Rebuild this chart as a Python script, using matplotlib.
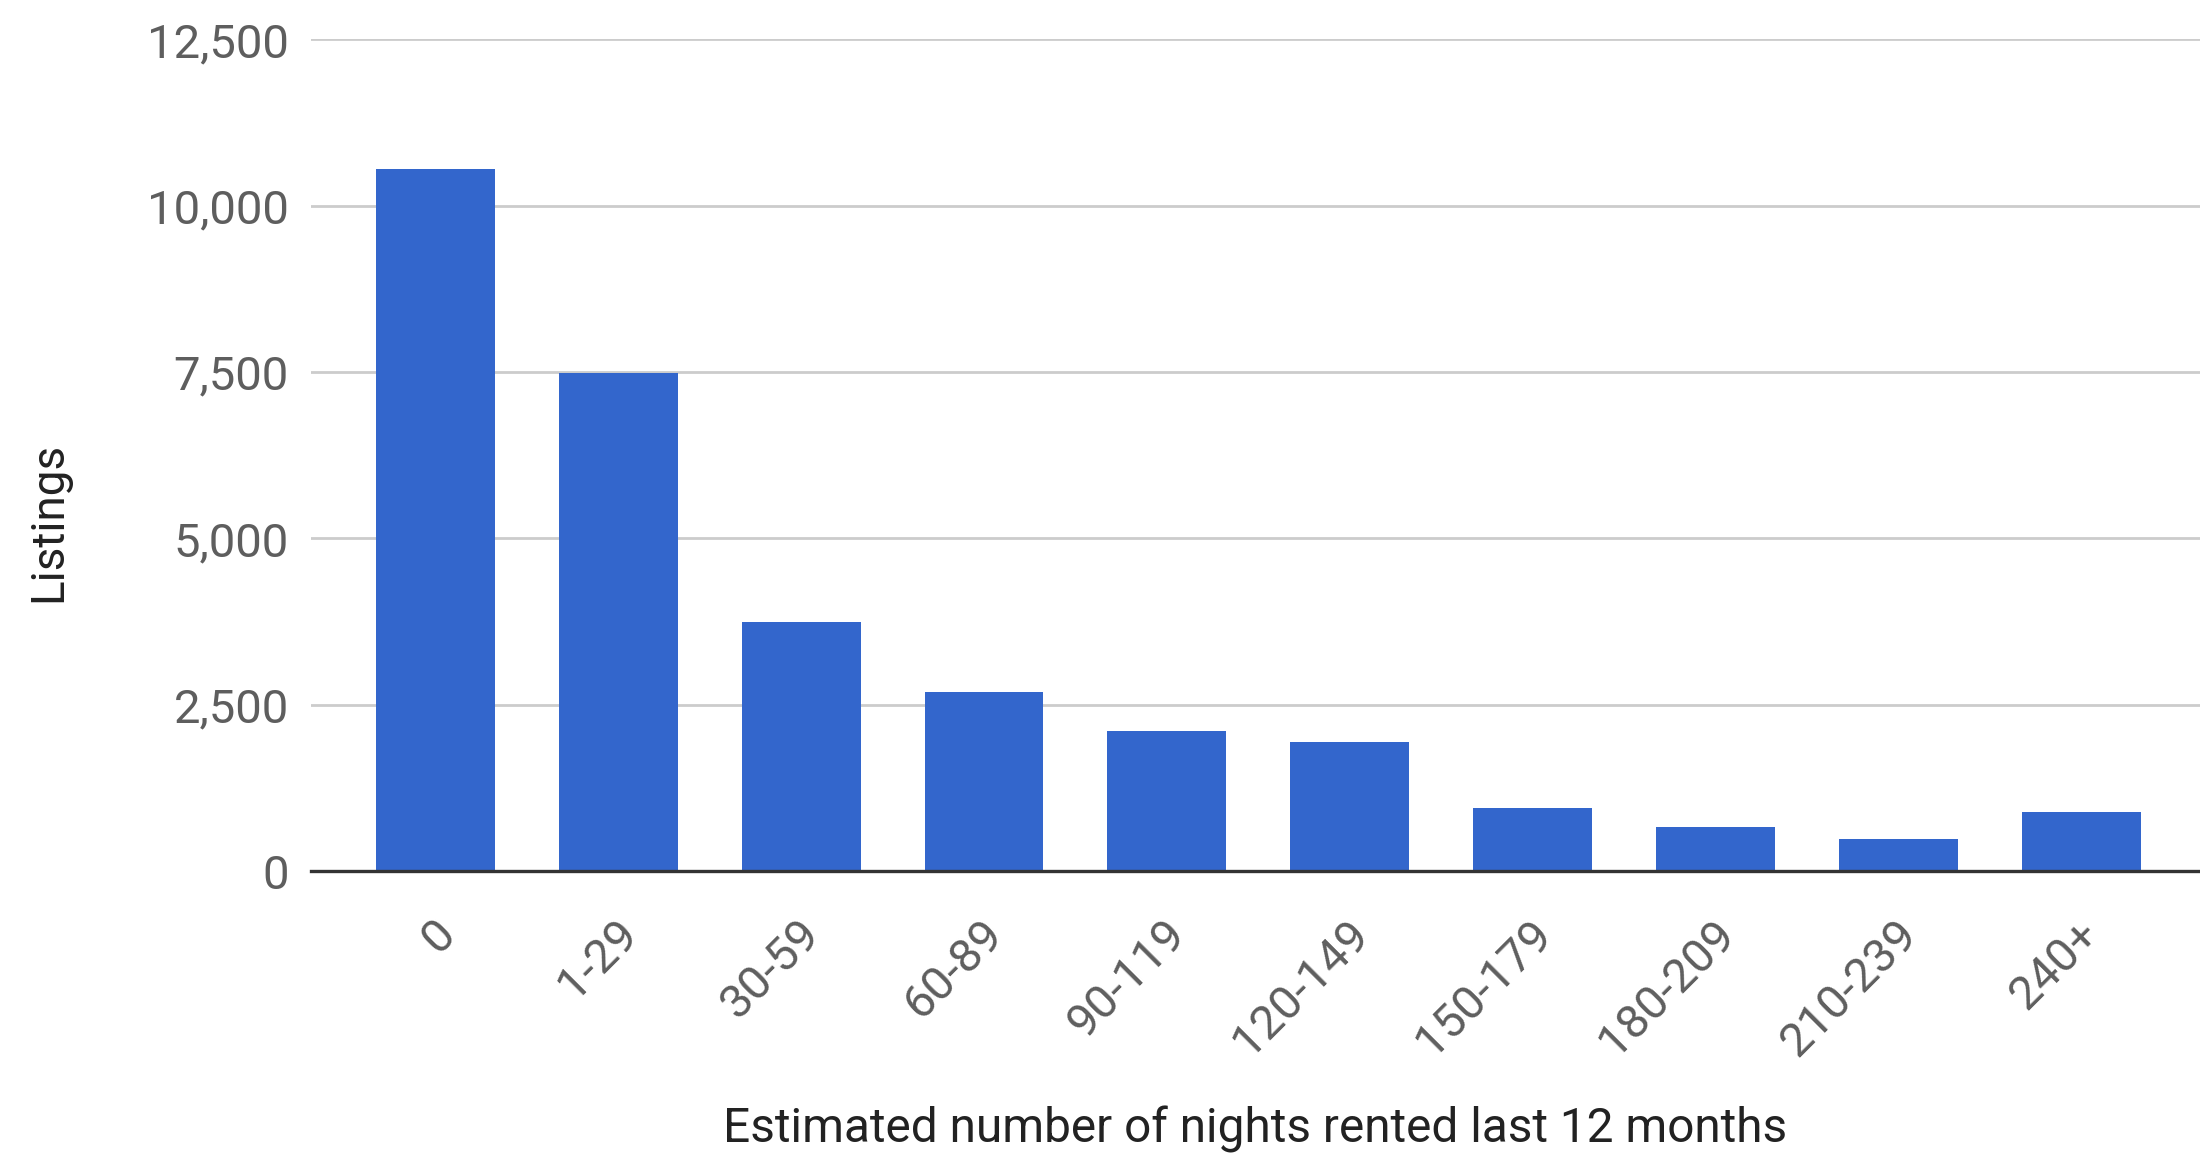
import matplotlib
matplotlib.use("Agg")
import matplotlib.pyplot as plt
import matplotlib.transforms as mtrans
from matplotlib.ticker import FuncFormatter

plt.rcParams.update({
    "font.family": ["Roboto", "DejaVu Sans"],
    "figure.facecolor": "white", "savefig.facecolor": "white",
})

# data
categories = ["0", "1-29", "30-59", "60-89", "90-119", "120-149",
              "150-179", "180-209", "210-239", "240+"]
listings = [10560, 7480, 3740, 2690, 2110, 1935, 950, 660, 485, 895]
y_ticks = [0, 2500, 5000, 7500, 10000, 12500]

BAR = "#3366cc"
GRID = "#cccccc"
TICK = "#5e5e5e"
TITLE = "#222222"

fig = plt.figure(figsize=(11, 5.8), dpi=200)
ax = fig.add_axes([0.1414, 0.249, 0.8586, 0.717])

x = list(range(len(categories)))
ax.bar(x, listings, width=0.65, color=BAR, zorder=3)

ax.set_xlim(-0.68, 9.65)
ax.set_ylim(0, 12500)
ax.set_yticks(y_ticks)
ax.yaxis.set_major_formatter(FuncFormatter(lambda v, p: f"{int(v):,}"))
ax.grid(axis="y", color=GRID, lw=1.0, zorder=0)
ax.set_axisbelow(True)

for s in ["top", "right", "left"]:
    ax.spines[s].set_visible(False)
ax.spines["bottom"].set_color("#333333")
ax.spines["bottom"].set_linewidth(1.2)
ax.spines["bottom"].set_zorder(4)

ax.tick_params(axis="y", length=0, pad=8, labelsize=17, labelcolor=TICK)
ax.tick_params(axis="x", length=0, pad=20, labelsize=17, labelcolor=TICK)

ax.set_xticks(x)
ax.set_xticklabels(categories, rotation=45, ha="right", va="center",
                   rotation_mode="anchor")
shift = mtrans.ScaledTranslation(12 / 200, 0, fig.dpi_scale_trans)
for lab in ax.get_xticklabels():
    lab.set_transform(lab.get_transform() + shift)

fig.text(0.5705, 0.006, "Estimated number of nights rented last 12 months",
         ha="center", va="bottom", fontsize=17.2, color=TITLE)
fig.text(0.022, 0.55, "Listings", rotation=90, ha="center", va="center",
         fontsize=16.5, color=TITLE)

fig.savefig("out.png", dpi=200, facecolor="white")
plt.close(fig)
